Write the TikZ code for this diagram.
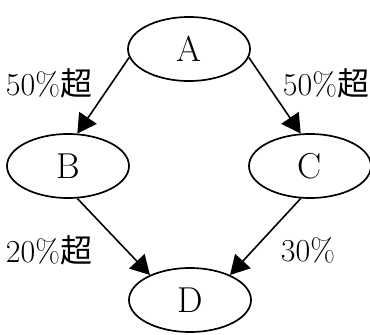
\documentclass[tikz,border=0pt]{standalone}
\usepackage{fontspec}
\newfontfamily\cjk{Noto Sans CJK JP}
\usetikzlibrary{shapes.geometric,arrows.meta}
\begin{document}
\begin{tikzpicture}[x=1pt,y=-1pt,
  vertex/.style={ellipse,draw,line width=1.7pt,minimum width=122pt,minimum height=64pt,inner sep=0pt,font=\fontsize{36}{36}\selectfont},
  edge/.style={line width=1.6pt,-{Triangle[length=19pt,width=21pt]}},
  pct/.style={font=\fontsize{32}{32}\selectfont,inner sep=0pt}]
\useasboundingbox (0,0) rectangle (370,335);
\node[vertex] (A) at (189,49) {A};
\node[vertex] (B) at (68,166) {B};
\node[vertex] (C) at (310,166) {C};
\node[vertex] (D) at (190,300) {D};
\draw[edge] (A.-172) -- (B.74);
\draw[edge] (A.-8) -- (C.106);
\draw[edge] (B.-74) -- (D.148);
\draw[edge] (C.-106) -- (D.32);
\node[pct] (lab) at (49,83) {50\%{\cjk 超}};
\node[pct] (lac) at (326,83) {50\%{\cjk 超}};
\node[pct] (lbd) at (49,250) {20\%{\cjk 超}};
\node[pct] (lcd) at (308,250) {30\%};
\end{tikzpicture}
\end{document}
